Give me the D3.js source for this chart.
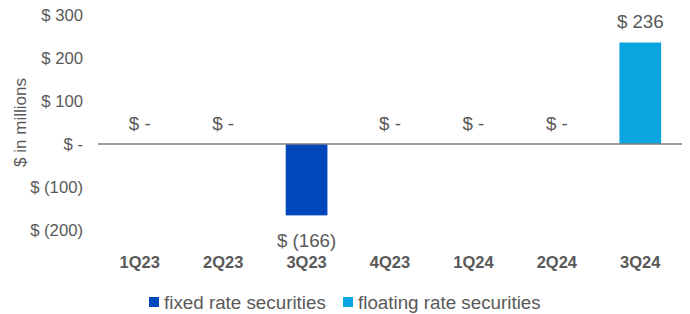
<!DOCTYPE html>
<html>
<head>
<meta charset="utf-8">
<script src="https://cdn.jsdelivr.net/npm/d3@7"></script>
<style>
  body { margin: 0; background: #fff; }
  text { font-family: "Liberation Sans", Arial, sans-serif; fill: #595959; }
</style>
</head>
<body>
<script>
// data
var quarters = ["1Q23", "2Q23", "3Q23", "4Q23", "1Q24", "2Q24", "3Q24"];
var fixedRate = [0, 0, -166, 0, 0, 0, null];
var floatingRate = [null, null, null, null, null, null, 236];
var yTicks = [300, 200, 100, 0, -100, -200];
var seriesNames = ["fixed rate securities", "floating rate securities"];
var seriesColors = ["#0047BB", "#0AA5E0"];

var svgWidth = 690, svgHeight = 314;

var svg = d3.select("body").append("svg")
  .attr("width", svgWidth)
  .attr("height", svgHeight);

// scales
var yScale = d3.scaleLinear()
  .domain([-200, 300])
  .range([230, 15]);

var xScale = d3.scaleBand()
  .domain(quarters)
  .range([98, 682])
  .paddingInner(0.5)
  .paddingOuter(0.25);

function fmt(v) {
  if (v === 0) return "$ -";
  if (v < 0) return "$ (" + Math.abs(v) + ")";
  return "$ " + v;
}

// y tick labels (no axis line)
var yAxis = d3.axisLeft(yScale).tickValues(yTicks).tickFormat(fmt).tickSize(0).tickPadding(0);
var yG = svg.append("g")
  .attr("transform", "translate(83,0)")
  .call(yAxis);
yG.select(".domain").remove();
yG.selectAll("text")
  .style("font-size", "16.7px")
  .style("font-family", "'Liberation Sans', Arial, sans-serif")
  .attr("fill", "#595959");

// axis title
svg.append("text")
  .attr("transform", "translate(20," + yScale(50) + ") rotate(-90)")
  .attr("text-anchor", "middle")
  .attr("dy", "0.35em")
  .style("font-size", "17px")
  .text("$ in millions");

// bars
var bars = [];
quarters.forEach(function(q, i) {
  if (fixedRate[i] !== null) bars.push({ q: q, v: fixedRate[i], s: 0 });
  if (floatingRate[i] !== null) bars.push({ q: q, v: floatingRate[i], s: 1 });
});

svg.append("g").selectAll("rect")
  .data(bars.filter(function(d) { return d.v !== 0; }))
  .enter()
  .append("rect")
  .attr("x", function(d) { return xScale(d.q); })
  .attr("width", xScale.bandwidth())
  .attr("y", function(d) { return yScale(Math.max(0, d.v)); })
  .attr("height", function(d) { return Math.abs(yScale(d.v) - yScale(0)); })
  .attr("fill", function(d) { return seriesColors[d.s]; });

// zero line
svg.append("line")
  .attr("x1", 98).attr("x2", 682)
  .attr("y1", yScale(0)).attr("y2", yScale(0))
  .attr("stroke", "#7f7f7f")
  .attr("stroke-width", 1.5);

// data labels
svg.append("g").selectAll("text")
  .data(bars)
  .enter()
  .append("text")
  .attr("x", function(d) { return xScale(d.q) + xScale.bandwidth() / 2; })
  .attr("y", function(d) {
    if (d.v < 0) return yScale(d.v) + 25;
    return yScale(d.v) - 21;
  })
  .attr("dy", "0.35em")
  .attr("text-anchor", "middle")
  .style("font-size", "18.7px")
  .text(function(d) { return fmt(d.v); });

// category labels
svg.append("g").selectAll("text")
  .data(quarters)
  .enter()
  .append("text")
  .attr("x", function(d) { return xScale(d) + xScale.bandwidth() / 2; })
  .attr("y", 262)
  .attr("dy", "0.35em")
  .attr("text-anchor", "middle")
  .style("font-size", "16.5px")
  .style("font-weight", "bold")
  .text(function(d) { return d; });

// legend
var legendX = [149, 343];
var legend = svg.append("g").selectAll("g")
  .data(seriesNames)
  .enter()
  .append("g")
  .attr("transform", function(d, i) { return "translate(" + legendX[i] + ",302)"; });
legend.append("rect")
  .attr("x", 0).attr("y", -5)
  .attr("width", 10).attr("height", 10)
  .attr("fill", function(d, i) { return seriesColors[i]; });
legend.append("text")
  .attr("x", 15)
  .attr("dy", "0.35em")
  .style("font-size", "18.8px")
  .text(function(d) { return d; });
</script>
</body>
</html>
